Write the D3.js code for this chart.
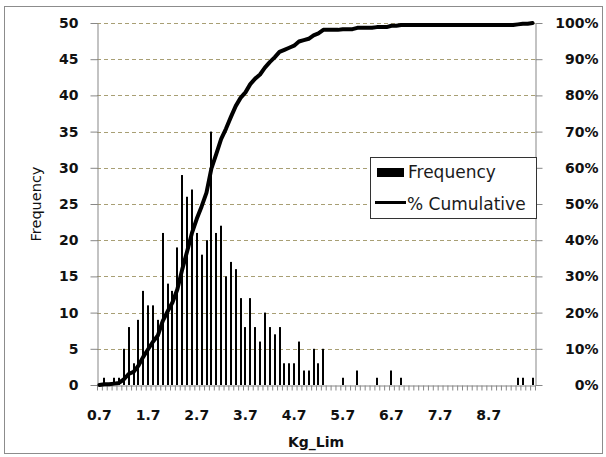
<!DOCTYPE html>
<html><head><meta charset="utf-8">
<script src="https://cdn.jsdelivr.net/npm/d3@7"></script>
<style>
html,body{margin:0;padding:0;background:#fff;}
svg{display:block;font-family:"DejaVu Sans",Verdana,sans-serif;}
</style></head><body>
<svg id="chart" width="606" height="457"></svg>
<script>
// Histogram bins of Kg_Lim (bin label = upper value)
const categories = [
  "0.7","0.8","0.9","1.0","1.1","1.2","1.3","1.4","1.5","1.6",
  "1.7","1.8","1.9","2.0","2.1","2.2","2.3","2.4","2.5","2.6",
  "2.7","2.8","2.9","3.0","3.1","3.2","3.3","3.4","3.5","3.6",
  "3.7","3.8","3.9","4.0","4.1","4.2","4.3","4.4","4.5","4.6",
  "4.7","4.8","4.9","5.0","5.1","5.2","5.3","5.4","5.5","5.6",
  "5.7","5.8","5.9","6.0","6.1","6.2","6.3","6.4","6.5","6.6",
  "6.7","6.8","6.9","7.0","7.1","7.2","7.3","7.4","7.5","7.6",
  "7.7","7.8","7.9","8.0","8.1","8.2","8.3","8.4","8.5","8.6",
  "8.7","8.8","8.9","9.0","9.1","9.2","9.3","9.4","9.5","9.6"
];
// Count in each bin
const frequency = [
  0, 1, 0, 1, 1, 5, 8, 3, 9, 13,
  11, 11, 9, 21, 14, 13, 19, 29, 26, 27,
  21, 18, 20, 35, 21, 22, 15, 17, 16, 12,
  8, 12, 8, 6, 10, 8, 7, 8, 3, 3,
  3, 6, 2, 2, 5, 3, 5, 0, 0, 0,
  1, 0, 0, 2, 0, 0, 0, 1, 0, 0,
  2, 0, 1, 0, 0, 0, 0, 0, 0, 0,
  0, 0, 0, 0, 0, 0, 0, 0, 0, 0,
  0, 0, 0, 0, 0, 0, 1, 1, 0, 1
];
const freqTicks = [0, 5, 10, 15, 20, 25, 30, 35, 40, 45, 50];
const pctTicks = [0, 10, 20, 30, 40, 50, 60, 70, 80, 90, 100];
const xTickLabels = ["0.7","1.7","2.7","3.7","4.7","5.7","6.7","7.7","8.7"];
const seriesNames = ["Frequency", "% Cumulative"];

// Running cumulative percentage of the counts
const total = d3.sum(frequency);
const cumulative = d3.cumsum(frequency).map(v => v / total * 100);

const plot = {left: 97, right: 535, top: 23, bottom: 385};
const svg = d3.select("#chart");
const axisGrey = "#878787";
const gridColor = "#a89f74";

// chart frame
svg.append("rect")
  .attr("x", 4.5).attr("y", 6.5).attr("width", 598).attr("height", 447)
  .attr("fill", "none").attr("stroke", "#8c8c8c");

const x = d3.scaleBand().domain(categories)
  .range([plot.left, plot.right]).paddingInner(0.6).paddingOuter(0.3);
const xEdge = d3.scaleLinear().domain([0, categories.length]).range([plot.left, plot.right]);
const y = d3.scaleLinear().domain([0, 50]).range([plot.bottom, plot.top]);
const yPct = d3.scaleLinear().domain([0, 100]).range([plot.bottom, plot.top]);

// dashed horizontal gridlines
svg.append("g").selectAll("line")
  .data(freqTicks.filter(d => d > 0)).join("line")
  .attr("x1", plot.left).attr("x2", plot.right)
  .attr("y1", d => Math.round(y(d)) + 0.5).attr("y2", d => Math.round(y(d)) + 0.5)
  .attr("stroke", gridColor).attr("stroke-width", 1).attr("stroke-dasharray", "4,3");

// frequency bars
svg.append("g").selectAll("rect")
  .data(frequency.map((v, i) => ({cat: categories[i], v})).filter(d => d.v > 0))
  .join("rect")
  .attr("x", d => Math.round(x(d.cat)))
  .attr("width", 2)
  .attr("y", d => y(d.v))
  .attr("height", d => y(0) - y(d.v))
  .attr("fill", "#000");

// left axis
const gl = svg.append("g").attr("transform", `translate(${plot.left + 0.5},0)`)
  .call(d3.axisLeft(y).tickValues(freqTicks).tickSize(7).tickSizeOuter(0).tickPadding(12));
// right axis
const gr = svg.append("g").attr("transform", `translate(${plot.right + 0.5},0)`)
  .call(d3.axisRight(yPct).tickValues(pctTicks).tickSize(7).tickSizeOuter(0)
    .tickFormat(d => d + "%"));
gr.selectAll("text").attr("x", 63).attr("text-anchor", "end");
// bottom axis: small ticks between bins
const gb = svg.append("g").attr("transform", `translate(0,${plot.bottom + 0.5})`)
  .call(d3.axisBottom(xEdge).tickValues(d3.range(0, categories.length + 1))
    .tickSize(5).tickSizeOuter(0).tickFormat(""));
// bottom axis labels every tenth bin
const gbl = svg.append("g").attr("transform", `translate(0,${plot.bottom})`)
  .call(d3.axisBottom(x).tickValues(xTickLabels).tickSize(0).tickPadding(25));
gbl.select(".domain").remove();

[gl, gr, gb].forEach(g => {
  g.select(".domain").attr("stroke", axisGrey);
  g.selectAll(".tick line").attr("stroke", axisGrey);
});
[gl, gr, gbl].forEach(g => {
  g.selectAll("text").attr("font-size", 14).attr("font-weight", "bold")
    .attr("fill", "#111").attr("font-family", "'DejaVu Sans', Verdana, sans-serif");
});

// cumulative percentage line
const line = d3.line()
  .x((d, i) => x(categories[i]) + x.bandwidth() / 2)
  .y(d => yPct(d));
svg.append("path").datum(cumulative)
  .attr("d", line).attr("fill", "none")
  .attr("stroke", "#000").attr("stroke-width", 4)
  .attr("stroke-linejoin", "round").attr("stroke-linecap", "round");

// axis titles
svg.append("text").attr("x", (plot.left + plot.right) / 2).attr("y", 447)
  .attr("text-anchor", "middle").attr("font-size", 14).attr("font-weight", "bold")
  .attr("fill", "#111").text("Kg_Lim");
svg.append("text").attr("transform", `translate(41,${(plot.top + plot.bottom) / 2}) rotate(-90)`)
  .attr("text-anchor", "middle").attr("font-size", 14.5)
  .attr("fill", "#111").text("Frequency");

// legend
const lg = svg.append("g");
lg.append("rect").attr("x", 370.5).attr("y", 157.5).attr("width", 166).attr("height", 61)
  .attr("fill", "#fff").attr("stroke", "#333");
lg.append("rect").attr("x", 377).attr("y", 168).attr("width", 27).attr("height", 9).attr("fill", "#000");
lg.append("text").attr("x", 408).attr("y", 178).attr("font-size", 17).attr("fill", "#1a1a1a")
  .text(seriesNames[0]);
lg.append("line").attr("x1", 375).attr("x2", 406).attr("y1", 202.5).attr("y2", 202.5)
  .attr("stroke", "#000").attr("stroke-width", 3);
lg.append("text").attr("x", 407).attr("y", 210).attr("font-size", 17).attr("fill", "#1a1a1a")
  .text(seriesNames[1]);
</script>
</body></html>
